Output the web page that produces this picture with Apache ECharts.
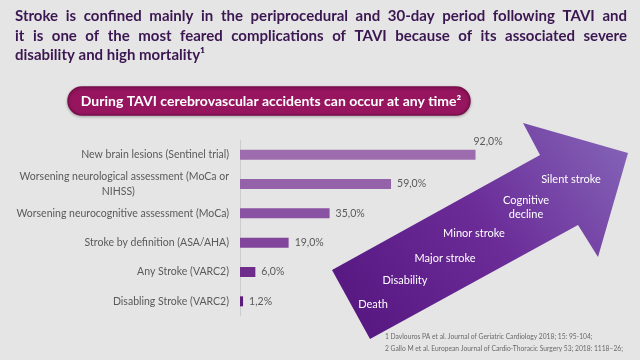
<!DOCTYPE html>
<html>
<head>
<meta charset="utf-8">
<script src="https://cdn.jsdelivr.net/npm/echarts@6/dist/echarts.min.js"></script>
<style>
html,body{margin:0;padding:0;background:#e5e5e5;}
#c{width:640px;height:360px;}
</style>
</head>
<body>
<div id="c"></div>
<script>
var categories = [
  'New brain lesions (Sentinel trial)',
  'Worsening neurological assessment (MoCa or NIHSS)',
  'Worsening neurocognitive assessment (MoCa)',
  'Stroke by definition (ASA/AHA)',
  'Any Stroke (VARC2)',
  'Disabling Stroke (VARC2)'
];
var values = [92.0, 59.0, 35.0, 19.0, 6.0, 1.2];
var barColors = ['#9d6cae', '#9462a8', '#8a52a2', '#81469b', '#6e2d8a', '#5c1c7b'];
var titleLines = [
  'Stroke is confined mainly in the periprocedural and 30-day period following TAVI and',
  'it is one of the most feared complications of TAVI because of its associated severe',
  'disability and high mortality\u00b9'
];
var pillText = 'During TAVI cerebrovascular accidents can occur at any time\u00b2';
var arrowLabels = ['Silent stroke', 'Cognitive\ndecline', 'Minor stroke', 'Major stroke', 'Disability', 'Death'];
var footnotes = [
  '1 Davlouros PA et al. Journal of Geriatric Cardiology 2018; 15: 95-104;',
  '2 Gallo M et al. European Journal of Cardio-Thoracic Surgery 53; 2018: 1118\u201326;'
];

var chart = echarts.init(document.getElementById('c'), null, {renderer: 'canvas'});
var FONT = 'Lato, "Open Sans", sans-serif';
var TITLE_FONT = 'bold 15px ' + FONT;

var measureCtx = document.createElement('canvas').getContext('2d');
function textWidth(t, font) { measureCtx.font = font; return measureCtx.measureText(t).width; }

var arrowTextPos = [[571,179],[526,207],[474,233],[445,258],[405,280],[373,304]];

var graphics = [];
titleLines.forEach(function (t, i) {
  var y = 9 + i * 19.5;
  if (i < 2) {
    var words = t.split(' ');
    var total = 0;
    words.forEach(function (w) { total += textWidth(w, TITLE_FONT); });
    var gap = (627 - 15 - total) / (words.length - 1);
    var x = 15;
    words.forEach(function (w) {
      graphics.push({type: 'text', x: x, y: y, style: {text: w, fill: '#3b1751', font: TITLE_FONT}});
      x += textWidth(w, TITLE_FONT) + gap;
    });
  } else {
    graphics.push({type: 'text', x: 15, y: y, style: {text: t, fill: '#3b1751', font: TITLE_FONT}});
  }
});
graphics.push({
  type: 'rect',
  shape: {x: 68, y: 87, width: 402, height: 28, r: 14},
  style: {fill: '#97155f', stroke: '#7a0f4c', lineWidth: 1.5,
          shadowBlur: 3, shadowColor: 'rgba(0,0,0,0.25)', shadowOffsetY: 1}
});
graphics.push({
  type: 'text', x: 271, y: 101,
  style: {text: pillText, fill: '#ffffff', font: 'bold 14px ' + FONT, align: 'center', verticalAlign: 'middle'}
});
graphics.push({
  type: 'polygon', z: 0,
  shape: {points: [[332,270],[540,155],[523,123],[628,153],[598,257],[578,225],[370,339]]},
  style: {
    fill: new echarts.graphic.LinearGradient(372, 330, 620, 150, [
      {offset: 0, color: '#591983'},
      {offset: 0.5, color: '#6b2c98'},
      {offset: 1, color: '#8260b5'}
    ], true)
  }
});
arrowLabels.forEach(function (t, i) {
  graphics.push({
    type: 'text', x: arrowTextPos[i][0], y: arrowTextPos[i][1], z: 1,
    style: {text: t, fill: '#ffffff', font: '11px ' + FONT, align: 'center', verticalAlign: 'middle', lineHeight: 14}
  });
});
footnotes.forEach(function (t, i) {
  graphics.push({
    type: 'text', left: 385, top: 333 + i * 12,
    style: {text: t, fill: '#6a6a6a', font: '6.7px ' + FONT}
  });
});

var LABEL_FONT = '10.5px ' + FONT;
var wrapFirst = 'Worsening neurological assessment (MoCa or';
var wrapSecond = 'NIHSS)';
var padPx = (textWidth(wrapFirst, LABEL_FONT) - textWidth(wrapSecond, LABEL_FONT)) / 2 + 5;
var nbspW = textWidth('\u00a0', LABEL_FONT) || 2.7;
var padStr = new Array(Math.max(0, Math.round(padPx / nbspW)) + 1).join('\u00a0');

chart.setOption({
  backgroundColor: '#e5e5e5',
  animation: false,
  grid: {left: 240, top: 140, width: 256, height: 176},
  xAxis: {type: 'value', min: 0, max: 100, show: false},
  yAxis: {
    type: 'category', inverse: true, data: categories,
    axisLine: {show: true, lineStyle: {color: '#cdcdcd', width: 1}},
    axisTick: {show: false},
    splitLine: {show: false},
    axisLabel: {
      margin: 11, color: '#5a5a5a', fontFamily: FONT, fontSize: 10.5, lineHeight: 15,
      formatter: function (v) {
        if (String(v).indexOf('NIHSS') >= 0) {
          return wrapFirst + '\n' + wrapSecond + padStr;
        }
        return v;
      }
    }
  },
  series: [{
    type: 'bar', barWidth: 10,
    data: values.map(function (v, i) {
      var d = {value: v, itemStyle: {color: barColors[i]}};
      if (i === 0) d.label = {position: 'right', distance: 0, offset: [-2, -13]};
      return d;
    }),
    label: {
      show: true, position: 'right', distance: 6,
      color: '#5a5a5a', fontFamily: FONT, fontSize: 10.5,
      formatter: function (p) { return p.value.toFixed(1).replace('.', ',') + '%'; }
    }
  }],
  graphic: graphics
});
</script>
</body>
</html>
